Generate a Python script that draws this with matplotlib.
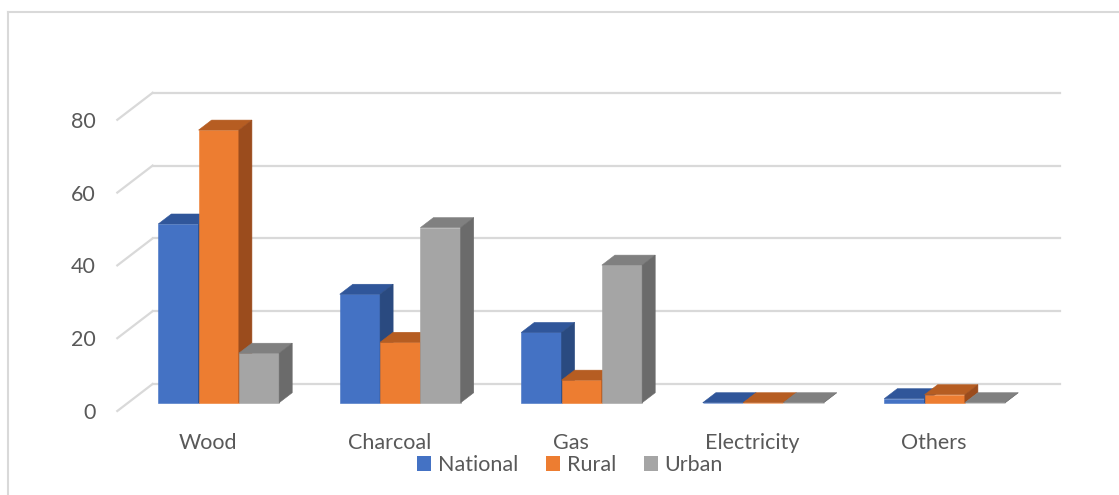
import matplotlib.pyplot as plt
from matplotlib.patches import Polygon, Patch
from matplotlib.lines import Line2D

categories = ["Wood", "Charcoal", "Gas", "Electricity", "Others"]
series = ["National", "Rural", "Urban"]
national = [49.1, 29.8, 19.3, 0, 1.1]
rural = [74.9, 16.6, 6.2, 0, 2.2]
urban = [13.6, 48.1, 37.8, 0, 0]
yticks = [0, 20, 40, 60, 80]

# front, top, side colours for each series
colors = {
    "National": ("#4472C4", "#30569A", "#2A4A80"),
    "Rural": ("#ED7D31", "#B65D22", "#9B4C1D"),
    "Urban": ("#A5A5A5", "#808080", "#6B6B6B"),
}
grid_c = "#D9D9D9"
text_c = "#595959"

# oblique depth of the floor (x in category units, y in value units)
DX, DY = 0.1945, 7.42
F0, FD = 0.307, 0.37      # bar front position and depth, as floor fractions
W = 0.222                 # bar width
START = 0.166             # first bar offset inside a category

plt.rcParams['font.family'] = ['Lato', 'DejaVu Sans']

fig = plt.figure(figsize=(11.19, 4.95), dpi=100)
ax = fig.add_axes([117.3 / 1119, 84 / 495, 942.8 / 1119, 318.2 / 495])
ax.set_xlim(0, len(categories) + DX)
ax.set_ylim(0, 80 + DY)
for s in ax.spines.values():
    s.set_visible(False)

# back wall gridlines and the slanted side lines
for v in yticks:
    ax.plot([DX, len(categories) + DX], [v + DY, v + DY], color=grid_c, lw=1.6, zorder=1, clip_on=False)
    ax.plot([0, DX], [v, v + DY], color=grid_c, lw=1.6, zorder=1, clip_on=False)

data = [national, rural, urban]
bx, by = DX * F0, DY * F0
ddx, ddy = DX * FD, DY * FD
for i in range(len(categories)):
    for j, name in enumerate(series):
        v = data[j][i]
        front, top, side = colors[name]
        z = 2 + (i * 3 + j) * 0.01
        xl = i + START + j * W + bx
        ax.bar(xl, v, width=W, bottom=by, align='edge', color=front,
               edgecolor=front, linewidth=0.4, zorder=z)
        b = by
        ax.add_patch(Polygon([(xl, b + v), (xl + W, b + v), (xl + W + ddx, b + v + ddy),
                              (xl + ddx, b + v + ddy)], closed=True, facecolor=top,
                             edgecolor=top, linewidth=0.4, zorder=z))
        ax.add_patch(Polygon([(xl + W, b), (xl + W + ddx, b + ddy), (xl + W + ddx, b + v + ddy),
                              (xl + W, b + v)], closed=True, facecolor=side,
                             edgecolor=side, linewidth=0.4, zorder=z))

ax.set_yticks(yticks)
ax.set_yticklabels([str(t) for t in yticks])
ax.set_xticks([i + 0.5 for i in range(len(categories))])
ax.set_xticklabels(categories)
ax.tick_params(axis='y', length=0, pad=15.8, labelsize=15.5, labelcolor=text_c)
ax.tick_params(axis='x', length=0, pad=15.5, labelsize=15.5, labelcolor=text_c)

handles = [Patch(facecolor=colors[n][0], edgecolor='none', label=n) for n in series]
fig.legend(handles=handles, loc='center', bbox_to_anchor=(570 / 1119, 1 - 465 / 495),
           ncol=3, frameon=False, fontsize=15.5, labelcolor=text_c,
           handlelength=0.65, handleheight=0.65, handletextpad=0.3,
           columnspacing=1.3, borderpad=0)

# chart frame (partly cut by the image edges)
fig.add_artist(Line2D([8 / 1119, 8 / 1119], [0, 1 - 11.5 / 495], color=grid_c, lw=1.5))
fig.add_artist(Line2D([8 / 1119, 1], [1 - 11.5 / 495, 1 - 11.5 / 495], color=grid_c, lw=1.5))

fig.savefig("out.png", dpi=100)
